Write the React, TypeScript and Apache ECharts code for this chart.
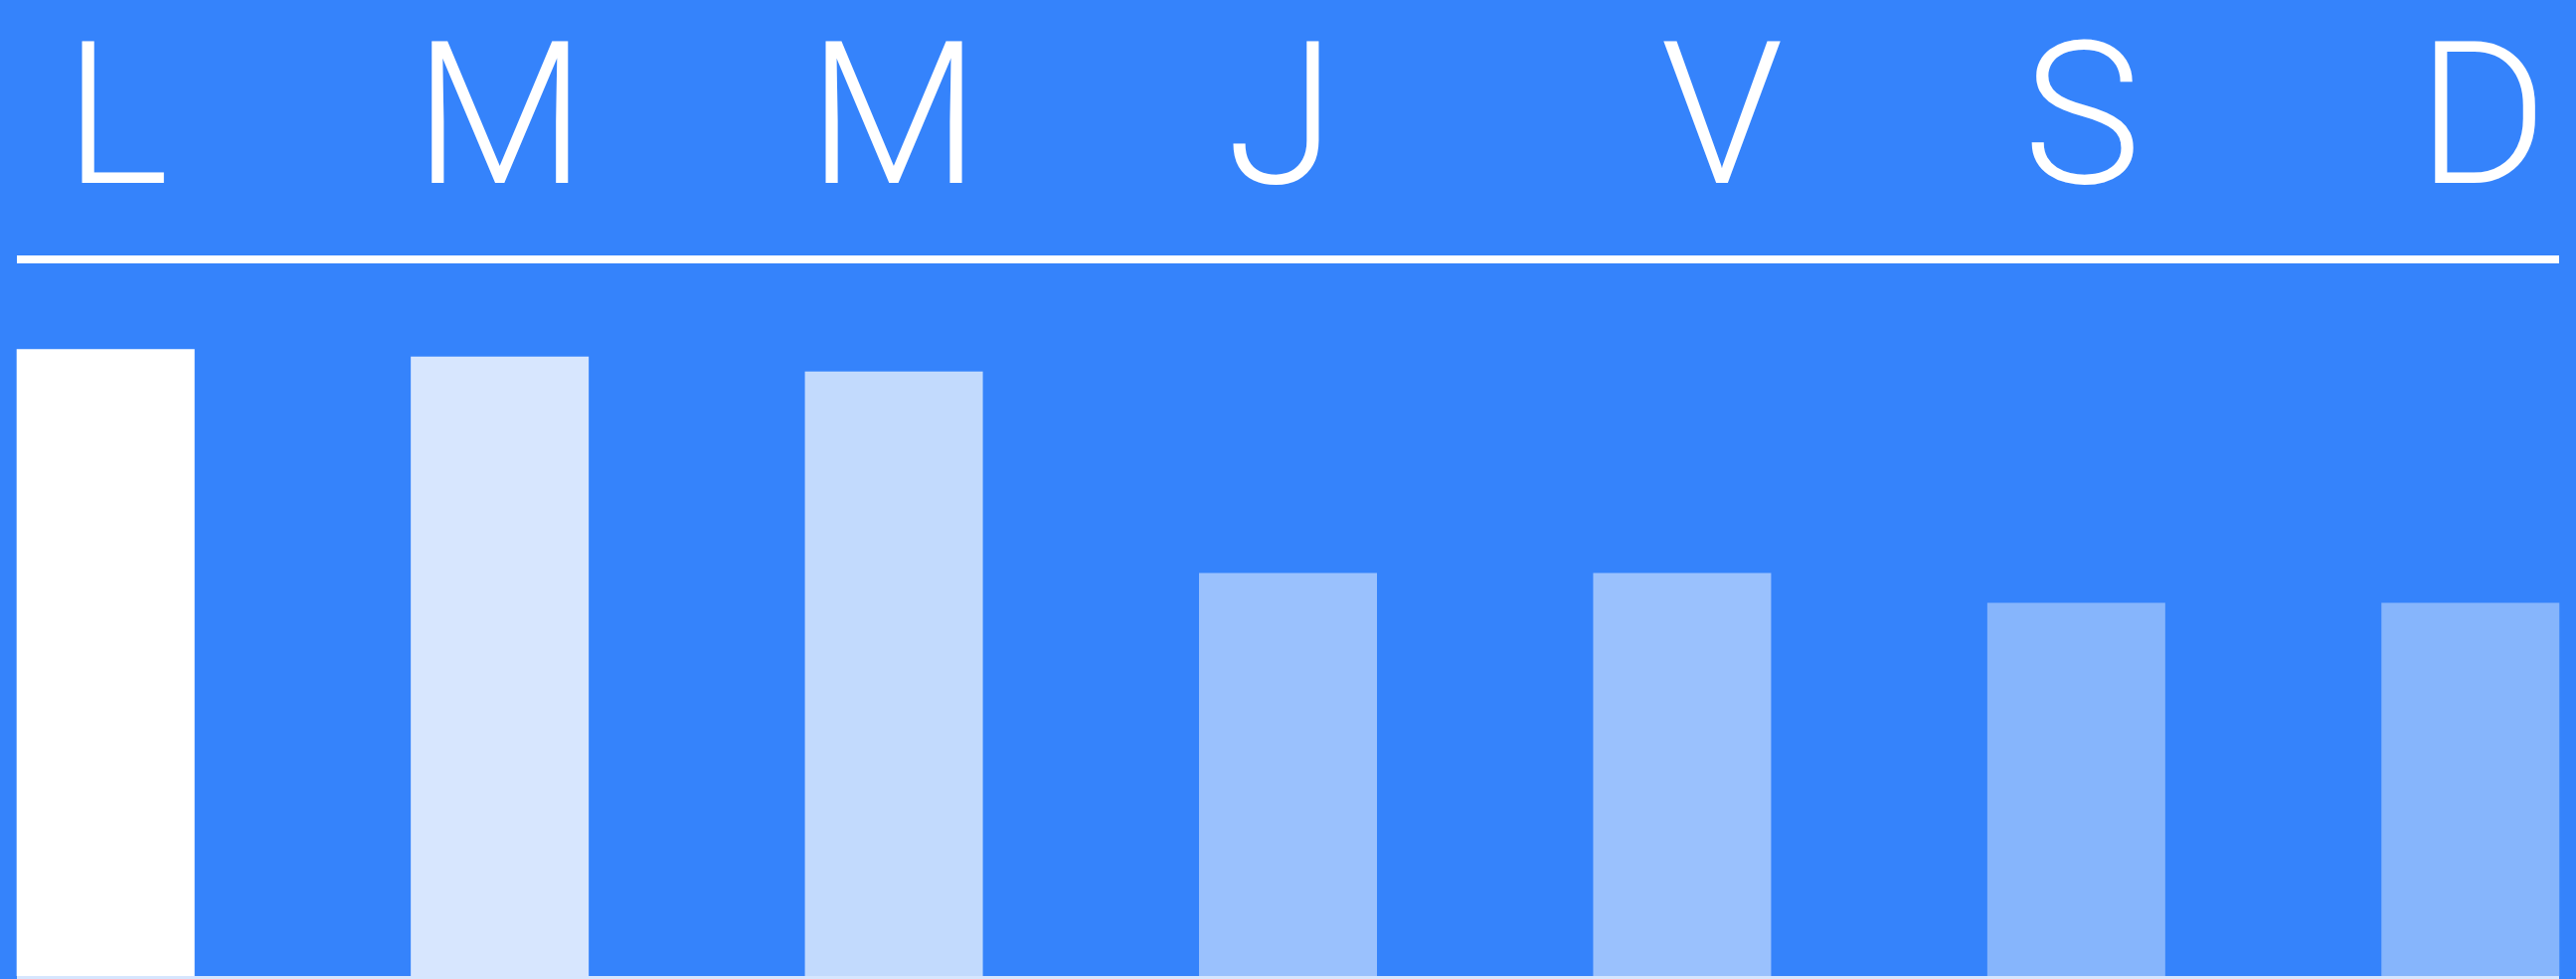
import React, { useEffect, useRef } from "react";
import * as echarts from "echarts";

const days = ["L", "M", "M", "J", "V", "S", "D"];
const values = [84, 83, 81, 54, 54, 50, 50];
const barColors = ["#FFFFFF", "#D7E6FE", "#C2DAFD", "#9AC1FD", "#9AC1FD", "#86B5FC", "#86B5FC"];
const yMax = 96;

const FONT = {
  color: "#FFFFFF",
  fontSize: 200,
  lineHeight: 200,
  fontFamily: "Roboto",
  fontWeight: 300,
};

export default function App() {
  const ref = useRef<HTMLDivElement>(null);
  useEffect(() => {
    if (!ref.current) return;
    const chart = echarts.init(ref.current, undefined, { renderer: "svg" });
    chart.setOption({
      animation: false,
      backgroundColor: "#3583FB",
      grid: [
        { left: 0, right: 0, top: 261, bottom: 3 },
        { left: 109, right: 109, top: 261, bottom: 3 },
      ],
      xAxis: [
        {
          type: "category",
          gridIndex: 0,
          position: "bottom",
          data: days,
          axisLine: { show: false },
          axisTick: { show: false },
          axisLabel: { show: false },
        },
        {
          type: "category",
          gridIndex: 0,
          position: "top",
          data: days,
          axisLine: { show: false },
          axisTick: { show: false },
          axisLabel: {
            show: true,
            interval: 0,
            margin: 46,
            alignMinLabel: "center",
            alignMaxLabel: "center",
            ...FONT,
            formatter: (v: string, i: number) => `{s${i}|${v}}`,
            rich: {
              s0: { ...FONT, padding: [0, 0, 0, 22] },
              s1: { ...FONT },
              s2: { ...FONT },
              s3: { ...FONT, padding: [0, 14, 0, 0] },
              s4: { ...FONT, padding: [0, 0, 0, 80] },
              s5: { ...FONT, padding: [0, 0, 0, 12] },
              s6: { ...FONT, padding: [0, 0, 0, 24] },
            },
          },
        },
        {
          type: "value",
          gridIndex: 1,
          position: "top",
          min: 0,
          max: 1,
          axisLine: { show: true, onZero: false, lineStyle: { color: "#FFFFFF", width: 8, cap: "butt" } },
          axisTick: { show: false },
          axisLabel: { show: false },
          splitLine: { show: false },
        },
        {
          type: "value",
          gridIndex: 1,
          position: "bottom",
          offset: 1.5,
          min: 0,
          max: 1,
          axisLine: { show: true, onZero: false, lineStyle: { color: "rgba(255,255,255,0.8)", width: 3, cap: "butt" } },
          axisTick: { show: false },
          axisLabel: { show: false },
          splitLine: { show: false },
        },
      ],
      yAxis: [
        { type: "value", gridIndex: 0, min: 0, max: yMax, show: false },
        { type: "value", gridIndex: 1, min: 0, max: 1, show: false },
      ],
      series: [
        {
          type: "bar",
          xAxisIndex: 0,
          yAxisIndex: 0,
          barWidth: 179,
          data: values.map((v, i) => ({ value: v, itemStyle: { color: barColors[i] } })),
        },
      ],
    });
    return () => chart.dispose();
  }, []);
  return (
    <div style={{ position: "fixed", left: 0, top: 0, width: 2591, height: 985, overflow: "hidden" }}>
      <div
        ref={ref}
        style={{ position: "absolute", left: -92, top: 0, width: 2775, height: 985 }}
      />
    </div>
  );
}
